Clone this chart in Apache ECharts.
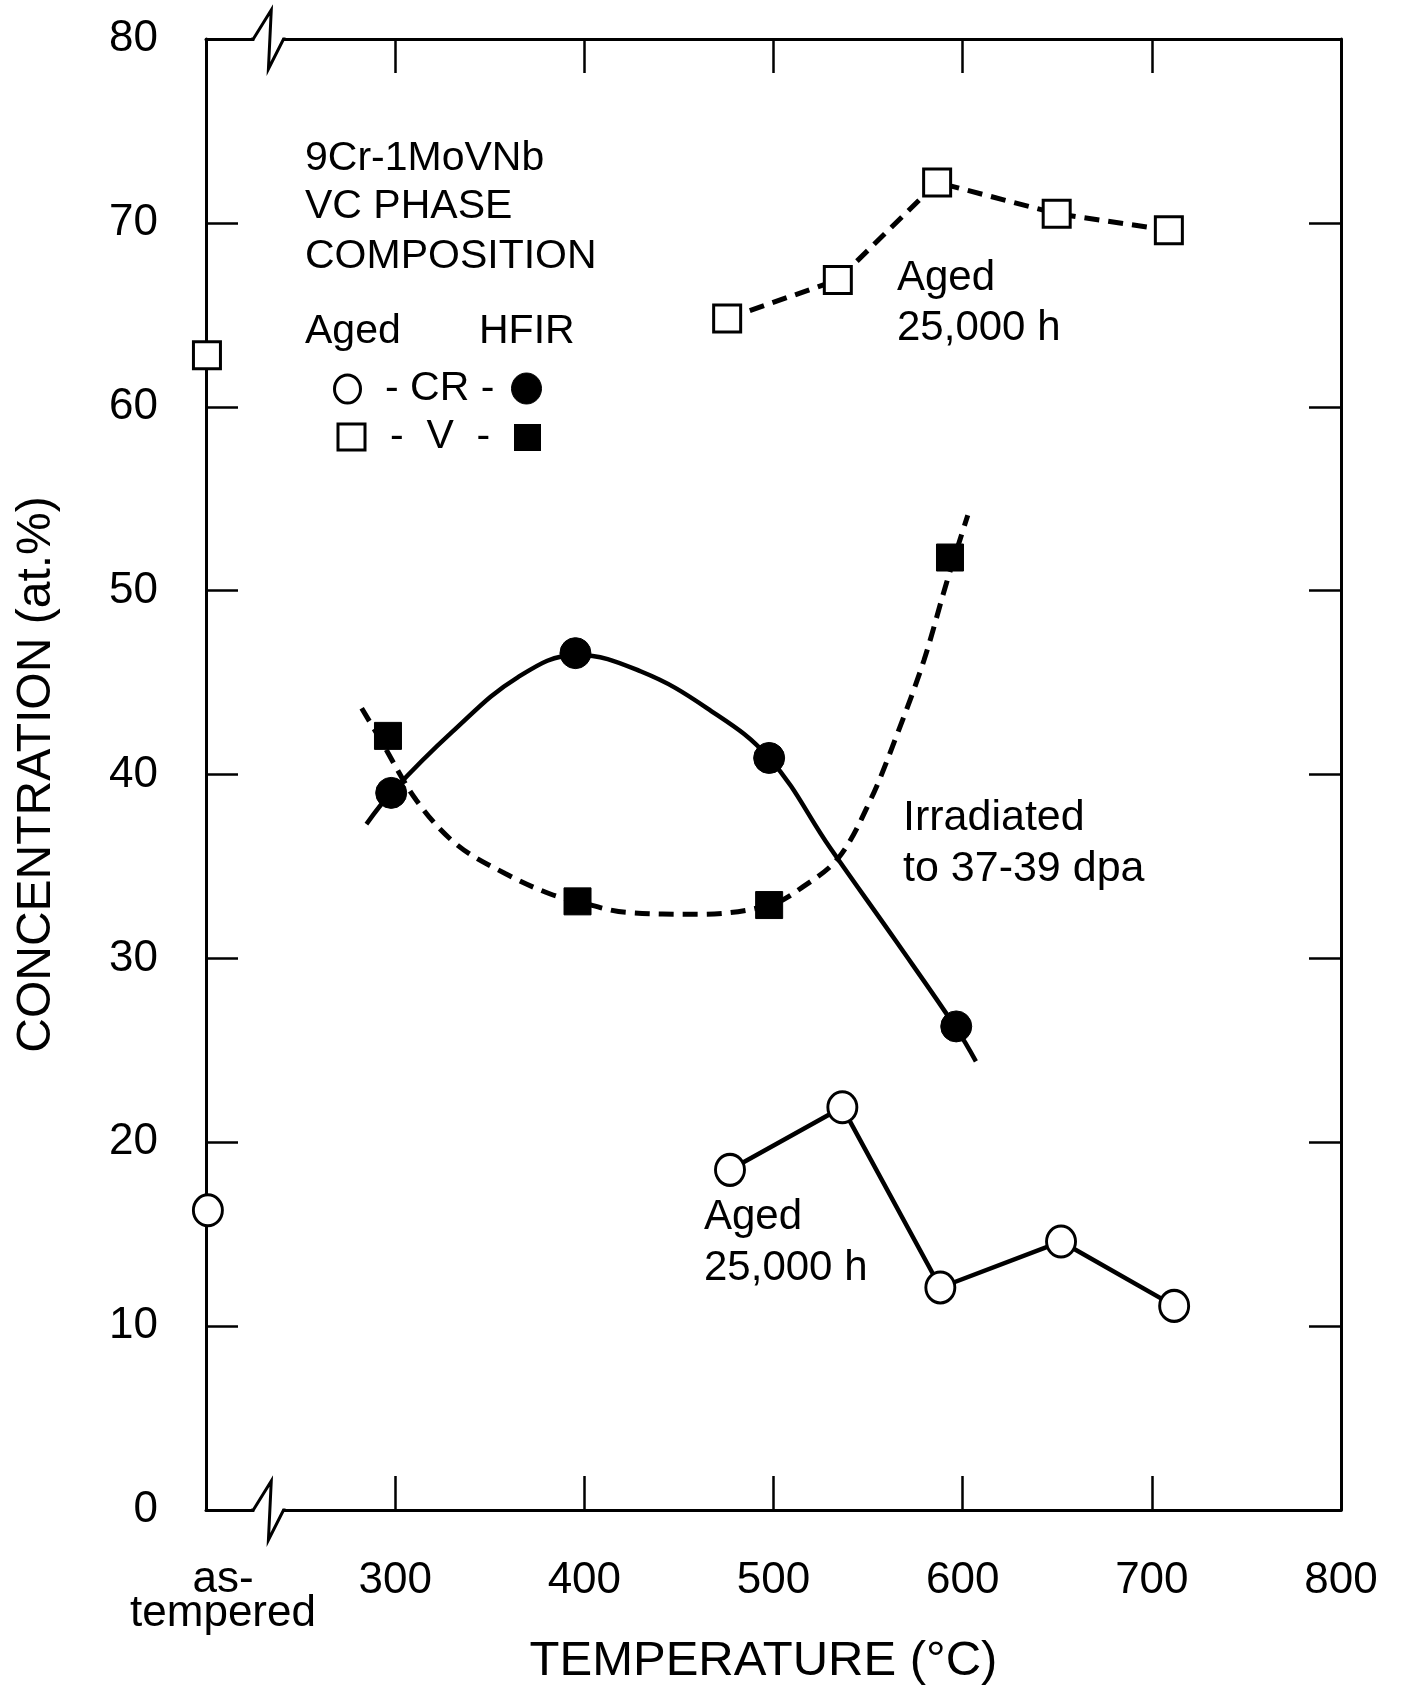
<!DOCTYPE html>
<html>
<head>
<meta charset="utf-8">
<script src="https://cdn.jsdelivr.net/npm/echarts@6/dist/echarts.min.js"></script>
<style>
html,body{margin:0;padding:0;background:#fff;}
#chart{width:1402px;height:1689px;}
</style>
</head>
<body>
<div id="chart"></div>
<script>
// ---- data ----
const xTickValues = [200, 300, 400, 500, 600, 700, 800];
const xTickLabels = ['as-\ntempered', '300', '400', '500', '600', '700', '800'];
const yTickValues = [0, 10, 20, 30, 40, 50, 60, 70, 80];

// Aged 25,000 h, V (open squares, dashed)
const agedV = [[475.5, 64.8], [534, 66.9], [586.5, 72.2], [649.7, 70.5], [709, 69.6]];
// as-tempered V
const asTemperedV = [[200.5, 62.8]];
// Aged 25,000 h, Cr (open circles, solid)
const agedCr = [[477, 18.5], [536.4, 21.9], [588.2, 12.1], [652, 14.6], [711.8, 11.1]];
// as-tempered Cr
const asTemperedCr = [[201, 16.3]];
// HFIR irradiated Cr (filled circles)
const hfirCr = [[297.9, 39.0], [395.3, 46.6], [497.7, 40.9], [596.6, 26.3]];
// HFIR irradiated V (filled squares)
const hfirV = [[296.2, 42.1], [396.4, 33.1], [497.7, 32.9], [593.3, 51.8]];
// hand-drawn fit curves
const hfirCrCurve = [[284.8, 37.3], [297.9, 39.0], [330, 42.3], [365, 45.3], [396, 46.5],
  [430, 45.6], [465, 43.6], [497.7, 40.9], [530, 36.0], [565, 30.9], [596.6, 26.2], [607.0, 24.4]];
const hfirVCurve = [[282.3, 43.6], [292.2, 41.9], [311.2, 38.6], [332.4, 36.2], [358.4, 34.6],
  [382.0, 33.5], [396.3, 33.1], [422.2, 32.5], [461.0, 32.4], [498.0, 32.9], [515.7, 33.9],
  [534.6, 35.5], [551.2, 38.6], [565.4, 42.2], [579.5, 46.2], [591.4, 50.4], [602.7, 54.1]];
// axis break (x values)
const breakX = [225, 234.5, 233, 241];

const FONT = "'Liberation Sans', Arial, Helvetica, sans-serif";
const chart = echarts.init(document.getElementById('chart'), null, {renderer: 'canvas'});

const openStyle = {color: '#fff', borderColor: '#000', borderWidth: 3, opacity: 1};
const fillStyle = {color: '#000', borderColor: '#000', borderWidth: 1, opacity: 1};

function xLabel(v) {
  const i = xTickValues.indexOf(v);
  const t = i >= 0 ? xTickLabels[i] : '';
  return t.indexOf('\n') >= 0 ? '' : t;   // multi-line label drawn below as text
}

const baseX = {
  type: 'value', min: 200, max: 800, interval: 100,
  axisLine: {show: true, onZero: false, lineStyle: {color: '#000', width: 3}},
  axisTick: {show: true, inside: true, length: 34, lineStyle: {color: '#000', width: 2.5}},
  splitLine: {show: false}
};
const baseY = {
  type: 'value', min: 0, max: 80, interval: 10,
  axisLine: {show: true, onZero: false, lineStyle: {color: '#000', width: 3}},
  axisTick: {show: true, inside: true, length: 32, lineStyle: {color: '#000', width: 2.5}},
  splitLine: {show: false}
};

chart.setOption({
  animation: false,
  backgroundColor: '#fff',
  grid: {left: 206, right: 61, top: 39, bottom: 179, containLabel: false, outerBoundsMode: 'none'},
  xAxis: [
    Object.assign({}, baseX, {
      position: 'bottom',
      name: 'TEMPERATURE (°C)', nameLocation: 'middle', nameGap: 127, nameMoveOverlap: false,
      nameTextStyle: {fontFamily: FONT, fontSize: 49, color: '#000', padding: [0, 20, 0, 0]},
      axisLabel: {
        show: true, margin: 53, color: '#000', fontFamily: FONT, fontSize: 44, lineHeight: 36,
        showMinLabel: true, showMaxLabel: true, hideOverlap: false,
        formatter: xLabel
      }
    }),
    Object.assign({}, baseX, {position: 'top', axisLabel: {show: false}})
  ],
  yAxis: [
    Object.assign({}, baseY, {
      position: 'left',
      name: 'CONCENTRATION (at.%)', nameLocation: 'middle', nameGap: 145, nameMoveOverlap: false,
      nameTextStyle: {fontFamily: FONT, fontSize: 48, color: '#000'},
      axisLabel: {show: true, margin: 48, color: '#000', fontFamily: FONT, fontSize: 44,
        showMinLabel: true, showMaxLabel: true, hideOverlap: false,
        formatter: v => yTickValues.indexOf(v) >= 0 ? String(v) : ''}
    }),
    Object.assign({}, baseY, {position: 'right', axisLabel: {show: false}})
  ],
  series: [
    {name: 'HFIR Cr fit', type: 'line', data: hfirCrCurve, smooth: 0.4, showSymbol: false, symbol: 'none',
      lineStyle: {color: '#000', width: 4.5}, clip: false, z: 2},
    {name: 'HFIR V fit', type: 'line', data: hfirVCurve, smooth: 0.35, showSymbol: false, symbol: 'none',
      lineStyle: {color: '#000', width: 5, type: [15, 9]}, clip: false, z: 2},
    {name: 'Aged V', type: 'line', data: agedV, symbol: 'rect', symbolSize: 27,
      lineStyle: {color: '#000', width: 5, type: [15, 9]}, itemStyle: openStyle, clip: false, z: 3},
    {name: 'As-tempered V', type: 'scatter', data: asTemperedV, symbol: 'rect', symbolSize: 27,
      itemStyle: openStyle, clip: false, z: 3},
    {name: 'Aged Cr', type: 'line', data: agedCr, symbol: 'circle', symbolSize: [29, 31],
      lineStyle: {color: '#000', width: 4.5}, itemStyle: openStyle, clip: false, z: 3},
    {name: 'As-tempered Cr', type: 'scatter', data: asTemperedCr, symbol: 'circle', symbolSize: [29, 31],
      itemStyle: openStyle, clip: false, z: 3},
    {name: 'HFIR Cr', type: 'scatter', data: hfirCr, symbol: 'circle', symbolSize: 31,
      itemStyle: fillStyle, clip: false, z: 4},
    {name: 'HFIR V', type: 'scatter', data: hfirV, symbol: 'rect', symbolSize: 27,
      itemStyle: fillStyle, clip: false, z: 4}
  ]
});

// ---- decorations: axis breaks, legend block, annotations ----
function px(x, y) { return chart.convertToPixel({xAxisIndex: 0, yAxisIndex: 0}, [x, y]); }
const yTop = px(200, 80)[1], yBot = px(200, 0)[1];
const bx = breakX.map(v => px(v, 0)[0]);
const g = [];
[yTop, yBot].forEach(yy => {
  g.push({type: 'rect', z: 50, shape: {x: bx[0] + 1, y: yy - 5, width: bx[3] - bx[0] - 2, height: 10},
    style: {fill: '#fff'}});
  g.push({type: 'polyline', z: 51, shape: {points: [[bx[0] - 2, yy], [bx[0], yy], [bx[1], yy - 29], [bx[2], yy + 30], [bx[3], yy], [bx[3] + 2, yy]]},
    style: {stroke: '#000', lineWidth: 3, fill: null, lineJoin: 'miter'}});
});
function txt(s, x, y, size, align) {
  g.push({type: 'text', z: 60, x: x, y: y,
    style: {text: s, fontFamily: FONT, fontSize: size || 41, fill: '#000', align: align || 'left', verticalAlign: 'middle'}});
}
// multi-line x tick label at the as-tempered position
const asX = px(xTickValues[0], 0)[0] + 17;
const asLines = xTickLabels[0].split('\n');
txt(asLines[0], asX, yBot + 70, 44, 'center');
txt(asLines[1], asX, yBot + 104, 44, 'center');

txt('9Cr-1MoVNb', 305, 159);
txt('VC PHASE', 305, 207);
txt('COMPOSITION', 305, 257);
txt('Aged', 305, 332);
txt('HFIR', 479, 332);
txt('- CR -', 385, 389);
txt('-  V  -', 390, 437);
g.push({type: 'ellipse', z: 60, shape: {cx: 347.5, cy: 389, rx: 13, ry: 14}, style: {fill: '#fff', stroke: '#000', lineWidth: 3}});
g.push({type: 'ellipse', z: 60, shape: {cx: 526.5, cy: 388.5, rx: 15, ry: 15.5}, style: {fill: '#000', stroke: '#000', lineWidth: 1}});
g.push({type: 'rect', z: 60, shape: {x: 338, y: 424, width: 27, height: 26}, style: {fill: '#fff', stroke: '#000', lineWidth: 3}});
g.push({type: 'rect', z: 60, shape: {x: 514, y: 424, width: 27, height: 27}, style: {fill: '#000'}});
txt('Aged', 897, 278, 42);
txt('25,000 h', 897, 328, 42);
txt('Irradiated', 903, 818, 43);
txt('to 37-39 dpa', 903, 869, 43);
txt('Aged', 704, 1217, 42);
txt('25,000 h', 704, 1268, 42);
chart.setOption({graphic: g});
</script>
</body>
</html>
